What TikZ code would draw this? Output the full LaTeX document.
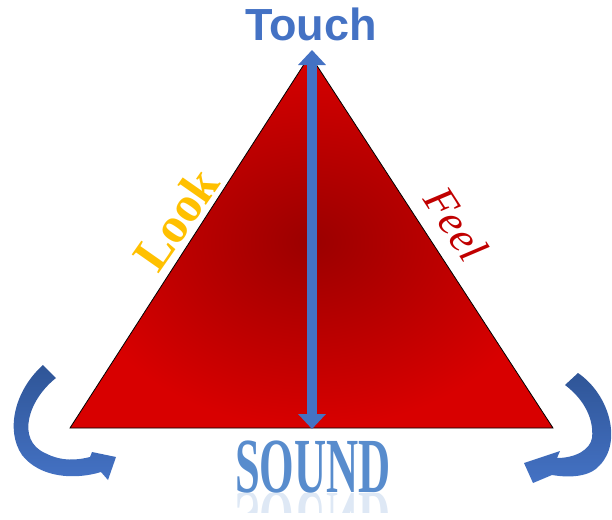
\documentclass[tikz,border=0pt]{standalone}
\usepackage{fontspec}
\setmainfont{Liberation Serif}
\newfontfamily\headfont{Liberation Sans}
\usetikzlibrary{arrows.meta,positioning,calc}
\definecolor{TouchBlue}{RGB}{68,114,196}
\definecolor{ArrowDark}{RGB}{47,85,151}
\definecolor{LookGold}{RGB}{255,192,0}
\definecolor{FeelRed}{RGB}{192,0,0}
\definecolor{DeepRed}{RGB}{155,0,0}
\definecolor{BrightRed}{RGB}{216,0,0}
\definecolor{SoundBlue}{RGB}{88,140,205}
\tikzset{
  tri/.style={draw=black,line width=0.8pt,inner color=DeepRed,outer color=BrightRed},
  vbar/.style={{Triangle[width=27pt,length=15pt]}-{Triangle[width=27pt,length=15pt]},
               TouchBlue,line width=10pt},
  turn/.style={top color=ArrowDark,bottom color=TouchBlue,draw=none},
  ttl/.style={font=\headfont\bfseries\fontsize{45}{45}\selectfont,text=TouchBlue,inner sep=0pt},
  side/.style={font=\bfseries\fontsize{50}{50}\selectfont,text=LookGold,inner sep=0pt},
  sidefeel/.style={font=\itshape\fontsize{44}{44}\selectfont,text=FeelRed,inner sep=0pt},
  snd/.style={font=\bfseries\fontsize{78}{78}\selectfont,text=SoundBlue,inner sep=0pt},
}
\begin{document}
\begin{tikzpicture}[x=1pt,y=-1pt]
\useasboundingbox (0,0) rectangle (612,519);

% corners of the triangle
\coordinate (apex) at (310,55);
\coordinate (bl) at (70,428);
\coordinate (br) at (553,428);
\coordinate (top) at (312,50);
\coordinate (bot) at (312,429);

\shade[tri] (apex) -- (br) -- (bl) -- cycle;
\draw[vbar] (top) -- (bot);

% labels
\node[ttl, anchor=base] (touch) at (311,41) {Touch};
\node[side, rotate=55] (look) at (176,219) {Look};
\node[sidefeel, rotate=-57] (feel) at (456,224) {Feel};
\node[snd, anchor=base] (sound) at (313,492) {\scalebox{0.57}[1]{SOUND}};
\begin{scope}
  \clip (200,493) rectangle (430,512);
  \node[snd, anchor=base, yscale=-1, opacity=0.2] (soundecho) at (313,492) {\scalebox{0.57}[1]{SOUND}};
\end{scope}

% curved arrows
\shade[turn] (43,365) -- (56,378) .. controls (28,400) and (16,440) .. (45,453)
  .. controls (62,462) and (78,460) .. (90,457) -- (92,452) -- (116,457) -- (108,480) -- (101,472)
  .. controls (75,480) and (40,478) .. (22,455) .. controls (5,430) and (15,390) .. (43,365) -- cycle;
\shade[turn] (578,373) .. controls (610,395) and (622,442) .. (600,465)
  .. controls (590,477) and (570,478) .. (552,475) -- (533,483) -- (524,463) -- (560,451) -- (557,458)
  .. controls (575,458) and (590,450) .. (592,438) .. controls (594,420) and (585,400) .. (565,385) -- cycle;
\end{tikzpicture}
\end{document}
